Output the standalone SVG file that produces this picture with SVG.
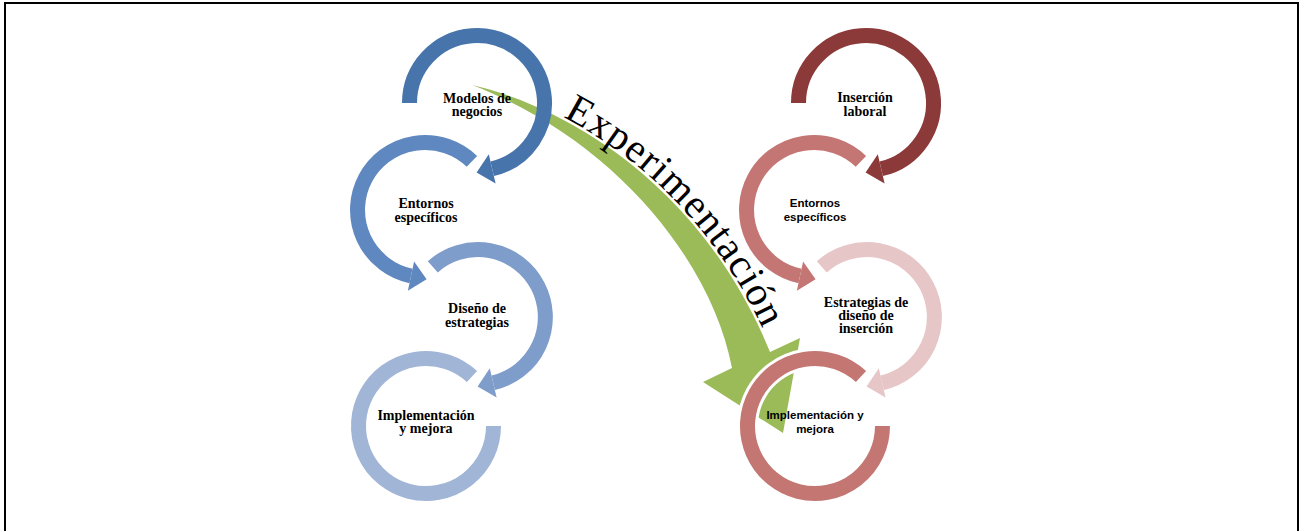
<svg xmlns="http://www.w3.org/2000/svg" width="1305" height="531" viewBox="0 0 1305 531">
<style>
.ring{fill:none;stroke-width:15;stroke-linecap:butt}
.lbl{font-family:"Liberation Serif",serif;font-weight:bold;font-size:14px;fill:#000;text-anchor:middle}
.lbs{font-family:"Liberation Sans",Arial,sans-serif;font-weight:bold;font-size:11.5px;fill:#000;text-anchor:middle}
.exp{font-family:"Liberation Serif",serif;font-size:41px;fill:#000}
</style>
<defs>
<path id="expPath" d="M 563,117 C 638,156 722,229 772,350"/>
</defs>
<rect x="5" y="3" width="1293" height="540" fill="#fff" stroke="#000" stroke-width="2"/>

<g id="connectors">
<path id="green-arrow" d="M 472,85 C 560,105 700,180 770,352 L 800,338 L 783,433 L 703,382 L 732,368 C 712,262 615,140 472,85 Z" fill="#9BBB59"/>
</g>

<g id="n1">
<path class="ring" stroke="#4775AB" d="M 409.5,103 A 67.5,67.5 0 1 1 492.2,168.8"/>
<polygon fill="#4775AB" points="488.8,154.2 495.6,183.4 476.6,172.4"/>
<text class="lbl" x="477" y="103">Modelos de</text>
<text class="lbl" x="477" y="116">negocios</text>
</g>
<g id="n2">
<path class="ring" stroke="#6088C0" d="M 471.9,161.4 A 67.5,67.5 0 1 0 411,276"/>
<polygon fill="#6088C0" points="414.1,261.4 407.85,290.7 426.6,279.3"/>
<text class="lbl" x="426" y="208">Entornos</text>
<text class="lbl" x="426" y="222">específicos</text>
</g>
<g id="n3">
<path class="ring" stroke="#7F9DCA" d="M 432.8,266.8 A 67.5,67.5 0 1 1 493.2,382.8"/>
<polygon fill="#7F9DCA" points="489.8,368.2 496.6,397.4 477.6,386.4"/>
<text class="lbl" x="477" y="313">Diseño de</text>
<text class="lbl" x="477" y="327">estrategias</text>
</g>
<g id="n4">
<path class="ring" stroke="#A1B5D7" d="M 472,376.6 A 67.5,67.5 0 1 0 493.5,426"/>
<text class="lbl" x="426" y="420">Implementación</text>
<text class="lbl" x="426" y="433">y mejora</text>
</g>

<g id="r1">
<path class="ring" stroke="#8C3A39" d="M 798.5,103 A 67.5,67.5 0 1 1 881.2,168.8"/>
<polygon fill="#8C3A39" points="877.8,154.2 884.6,183.4 865.6,172.4"/>
<text class="lbl" x="865" y="102">Inserción</text>
<text class="lbl" x="865" y="116">laboral</text>
</g>
<g id="r2">
<path class="ring" stroke="#C47674" d="M 860.9,161.4 A 67.5,67.5 0 1 0 800,276"/>
<polygon fill="#C47674" points="803.1,261.4 796.85,290.7 815.6,279.3"/>
<text class="lbs" x="815" y="207">Entornos</text>
<text class="lbs" x="815" y="221">específicos</text>
</g>
<g id="r3">
<path class="ring" stroke="#E6C6C6" d="M 821.8,266.8 A 67.5,67.5 0 1 1 882.2,382.8"/>
<polygon fill="#E6C6C6" points="878.8,368.2 885.6,397.4 866.6,386.4"/>
<text class="lbl" x="866" y="307">Estrategias de</text>
<text class="lbl" x="866" y="320">diseño de</text>
<text class="lbl" x="866" y="333">inserción</text>
</g>
<g id="r4">
<path fill="none" stroke="#fff" stroke-width="21" d="M 861,376.6 A 67.5,67.5 0 1 0 882.5,426"/>
<path class="ring" stroke="#C47672" d="M 861,376.6 A 67.5,67.5 0 1 0 882.5,426"/>
<text class="lbs" x="815" y="419">Implementación y</text>
<text class="lbs" x="815" y="433">mejora</text>
</g>

<g id="label-experimentacion">
<text class="exp" textLength="296" lengthAdjust="spacing"><textPath href="#expPath" textLength="296" lengthAdjust="spacing">Experimentación</textPath></text>
</g>
</svg>
